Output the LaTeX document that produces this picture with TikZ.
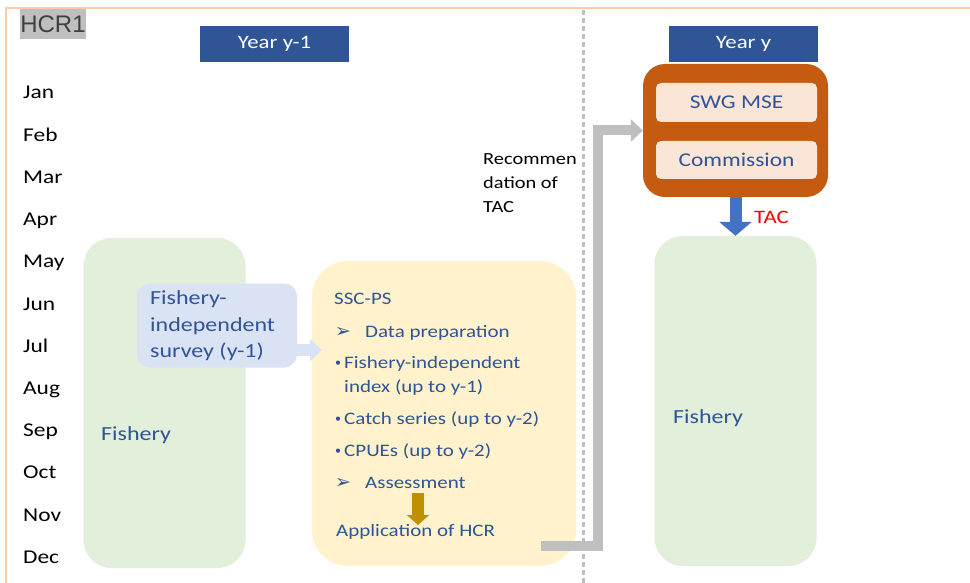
\documentclass[tikz,border=0pt]{standalone}
\usepackage{fontspec}
\usepackage{graphicx}
\setmainfont{Carlito}
\newfontfamily\arialf{Liberation Sans}
\newfontfamily\djv{DejaVu Sans}
\usetikzlibrary{arrows.meta,calc}
\definecolor{txtblue}{HTML}{2F5597}
\definecolor{hdrblue}{HTML}{2F5597}
\definecolor{fishgreen}{HTML}{E2EFDA}
\definecolor{survblue}{HTML}{DAE3F3}
\definecolor{sscyellow}{HTML}{FFF2CC}
\definecolor{orgbox}{HTML}{C55A11}
\definecolor{orginner}{HTML}{FBE5D6}
\definecolor{arrgray}{HTML}{BFBFBF}
\definecolor{arrbrown}{HTML}{BF9000}
\definecolor{arrblue}{HTML}{4472C4}
\definecolor{frameorange}{HTML}{F8CBAD}
\definecolor{hcrgray}{HTML}{BFBFBF}
\definecolor{hcrtext}{HTML}{404040}
\newcommand\sx[1]{\scalebox{1.2}[1]{#1}}
\begin{document}
\begin{tikzpicture}[x=1pt,y=-1pt,
  lbl/.style={inner sep=0pt, anchor=base west},
  monthfont/.style={font=\fontsize{19.5}{23}\selectfont, text=black},
  sscfont/.style={font=\fontsize{17.5}{21}\selectfont, text=txtblue},
  bluefont/.style={font=\fontsize{20}{24}\selectfont, text=txtblue},
  arrbullet/.style={lbl, text=txtblue, font=\djv\fontsize{19}{22}\selectfont},
  dotbullet/.style={lbl, text=txtblue, font=\fontsize{12}{14}\selectfont},
  hdrbox/.style={fill=hdrblue, minimum width=149pt, minimum height=36pt, inner sep=0pt, text=white, font=\fontsize{19}{23}\selectfont},
  fishbox/.style={fill=fishgreen, rounded corners=28pt, minimum width=162pt, minimum height=330pt, inner sep=0pt},
  innerbox/.style={fill=orginner, rounded corners=5pt, minimum width=161pt, minimum height=38pt, inner sep=0pt, text=txtblue, font=\fontsize{19.5}{23}\selectfont},
]
\useasboundingbox[fill=white] (0,0) rectangle (970,583);

% frame lines
\draw[frameorange, line width=2pt] (5.5,583) -- (5.5,8.5) -- (970,8.5);

% dashed separator
\draw[arrgray, line width=2.5pt, dash pattern=on 5pt off 3pt] (583.5,10) -- (583.5,583);

% HCR1 label
\node[fill=hcrgray, minimum width=64pt, minimum height=30pt, inner sep=0pt, text=hcrtext, font=\arialf\fontsize{24}{28}\selectfont] (hcr) at (53,24) {HCR1};

% year headers
\node[hdrbox] (yr1) at (274.5,44) {\sx{Year y-1}};
\node[hdrbox] (yr) at (743.5,44) {\sx{Year y}};

% months
\foreach \m [count=\i] in {Jan,Feb,Mar,Apr,May,Jun,Jul,Aug,Sep,Oct,Nov,Dec}
  \node[lbl, monthfont] (m\i) at (23,{99+42.2*(\i-1)}) {\sx{\m}};

% left fishery
\node[fishbox] (fish1) at (164.5,403) {};
\node[lbl, bluefont] (fish1t) at (101,440) {\sx{Fishery}};

% SSC-PS box
\node[fill=sscyellow, rounded corners=36pt, minimum width=264pt, minimum height=305pt, inner sep=0pt] (ssc) at (444,413.5) {};

% survey callout
\coordinate (sv1) at (290,350);
\coordinate (sv2) at (322,350);
\draw[survblue, line width=12pt, -{Triangle[width=22pt,length=12pt]}] (sv1) -- (sv2);
\node[fill=survblue, rounded corners=13pt, minimum width=160pt, minimum height=84pt, inner sep=0pt] (surv) at (217,325.5) {};
\node[lbl, bluefont] (sv_a) at (150,304) {\sx{Fishery-}};
\node[lbl, bluefont] (sv_b) at (150,331) {\sx{independent}};
\node[lbl, bluefont] (sv_c) at (150,357) {\sx{survey (y-1)}};

% SSC-PS text
\node[lbl, sscfont] (s1) at (334,304) {\sx{SSC-PS}};
\node[arrbullet] (s2b) at (335,337) {➢};
\node[lbl, sscfont] (s2) at (365,337) {\sx{Data preparation}};
\node[dotbullet] (s3b) at (335,366) {•};
\node[lbl, sscfont] (s3) at (344,368) {\sx{Fishery-independent}};
\node[lbl, sscfont] (s4) at (344,392) {\sx{index (up to y-1)}};
\node[dotbullet] (s5b) at (335,422) {•};
\node[lbl, sscfont] (s5) at (344,424) {\sx{Catch series (up to y-2)}};
\node[dotbullet] (s6b) at (335,454) {•};
\node[lbl, sscfont] (s6) at (344,456) {\sx{CPUEs (up to y-2)}};
\node[arrbullet] (s7b) at (335,488) {➢};
\node[lbl, sscfont] (s7) at (365,488) {\sx{Assessment}};
\node[lbl, sscfont] (s8) at (336,536) {\sx{Application of HCR}};
\coordinate (br1) at (418,493);
\coordinate (br2) at (418,525);
\draw[arrbrown, line width=12pt, -{Triangle[width=22pt,length=10pt]}] (br1) -- (br2);

% recommendation text
\node[lbl, font=\fontsize{17}{20}\selectfont, text=black] (r1) at (483,165) {\sx{Recommen}};
\node[lbl, font=\fontsize{17}{20}\selectfont, text=black] (r2) at (483,188.5) {\sx{dation of}};
\node[lbl, font=\fontsize{17}{20}\selectfont, text=black] (r3) at (483,212) {\sx{TAC}};

% orange box
\node[fill=orgbox, rounded corners=22pt, minimum width=185pt, minimum height=133pt, inner sep=0pt] (orange) at (735.5,130.5) {};
\node[innerbox, minimum height=39pt] (swg) at (736.5,102.5) {\sx{SWG MSE}};
\node[innerbox] (comm) at (736.5,160) {\sx{Commission}};

% right fishery
\node[fishbox] (fish2) at (735.5,401) {};
\node[lbl, bluefont] (fish2t) at (673,423) {\sx{Fishery}};

% gray arrow
\coordinate (g0) at (541,546);
\draw[arrgray, line width=10pt, -{Triangle[width=22pt,length=12pt]}] (g0) -- (598,546) |- (orange.west);

% blue TAC arrow
\draw[arrblue, line width=12pt, -{Triangle[width=32pt,length=14pt]}] (orange.south) -- (fish2.north);
\node[lbl, font=\fontsize{19}{23}\selectfont, text=red] (tac) at (754,223) {\sx{TAC}};
\end{tikzpicture}
\end{document}
